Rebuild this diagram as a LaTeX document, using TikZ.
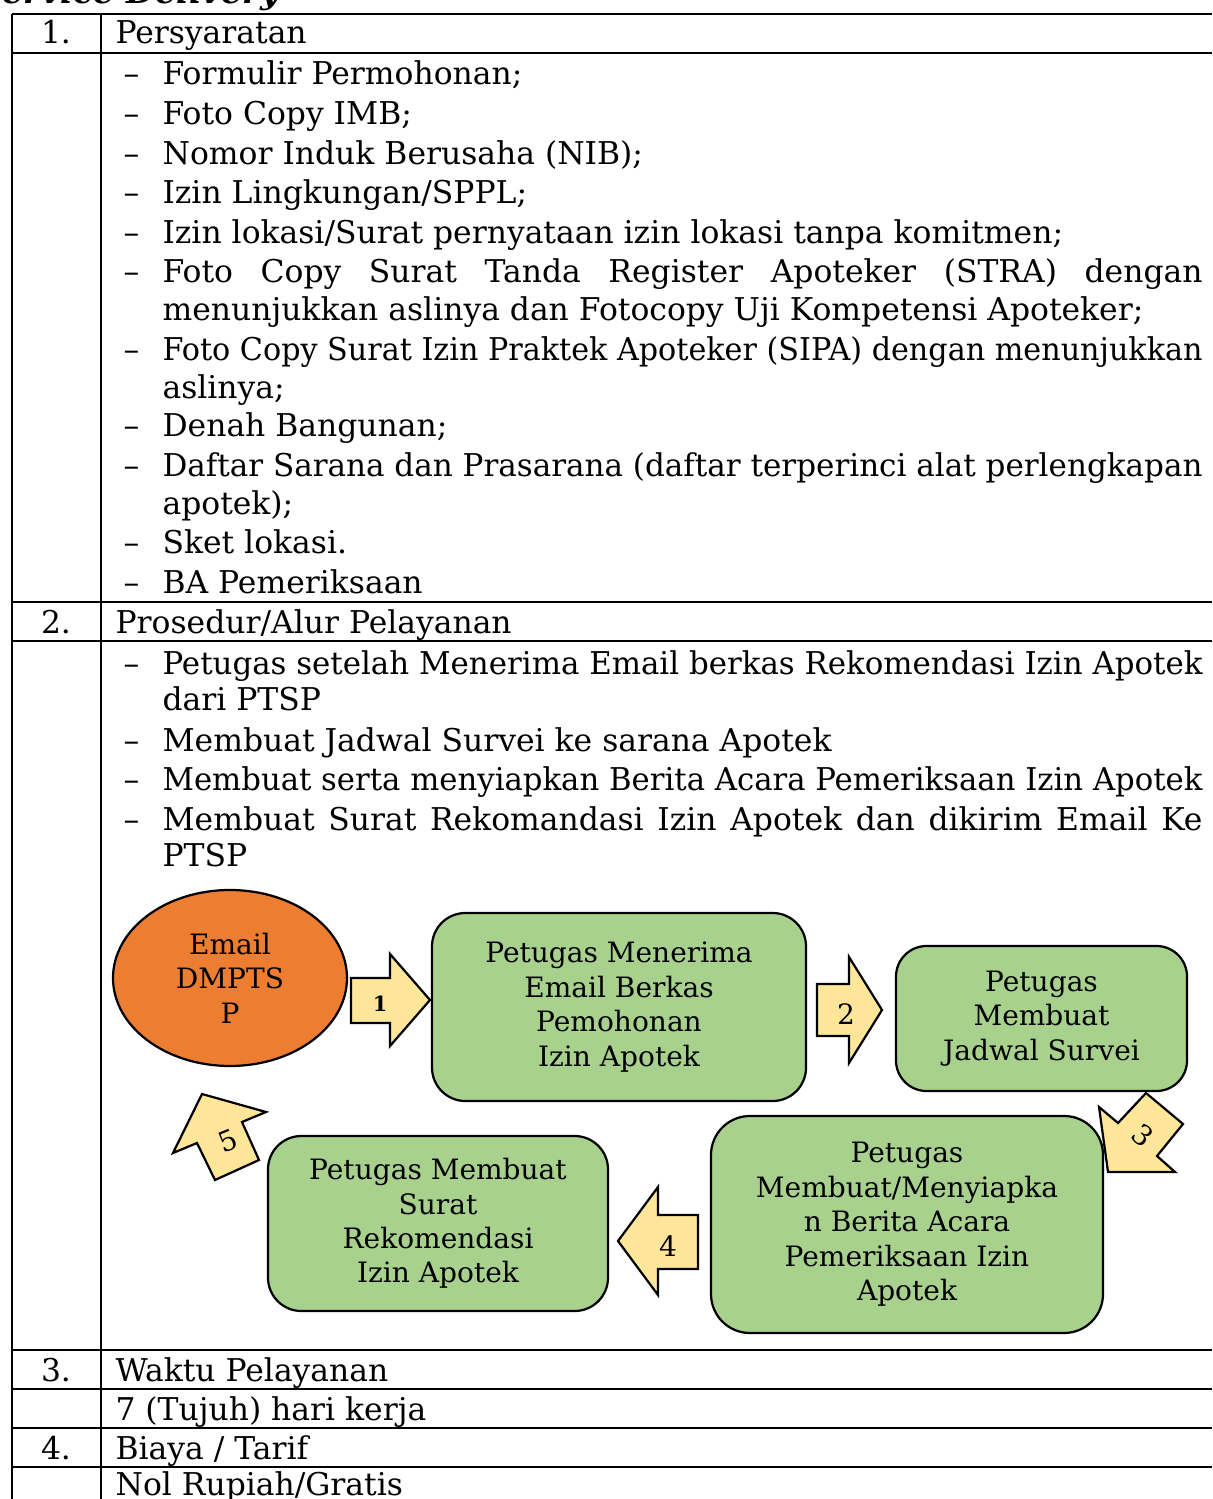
\documentclass[tikz,border=0pt]{standalone}
\usepackage{fontspec}
\usepackage{graphicx}
\setmainfont{DejaVu Serif}
\usetikzlibrary{shapes.geometric}
\definecolor{boxgreen}{HTML}{A9D18E}
\definecolor{arrowyellow}{HTML}{FFE699}
\definecolor{ellorange}{HTML}{ED7D31}
\newcommand\pxu{0.36pt}
\newcommand\bodyfont{\fontsize{11.3}{13}\selectfont}
\newcommand\flowfont{\fontsize{10.1}{12.4}\selectfont}
\newcommand\jbox[1]{\setbox0\hbox{#1}\ifdim\wd0>374.4pt\relax\resizebox{374.4pt}{\height}{#1}\else\makebox[374.4pt][s]{#1}\fi}
\tikzset{
  txt/.style={inner sep=0pt, font=\bodyfont, anchor=base west},
  num/.style={inner sep=0pt, font=\bodyfont, anchor=base},
  rule/.style={line width=0.8pt},
  flowbox/.style={draw, line width=0.8pt, fill=boxgreen, align=center, font=\flowfont, inner sep=0pt},
  blockarrow/.style={draw, line width=0.8pt, fill=arrowyellow, line join=miter},
}
\newcommand\itm[3]{\node[txt] (#1d) at (123,#2) {–}; \node[txt] (#1) at (162,#2) {#3};}
\newcommand\jitm[3]{\node[txt] (#1d) at (123,#2) {–}; \node[txt] (#1) at (162,#2) {\jbox{#3}};}
\newcommand\cont[3]{\node[txt] (#1) at (162,#2) {#3};}
\begin{document}
\begin{tikzpicture}[x=0.36pt,y=-0.36pt]
\useasboundingbox (0,0) rectangle (1212,1499);
\fill[white] (0,0) rectangle (1212,1499);
% title (cut off)
\node[inner sep=0pt, anchor=base west, font=\fontsize{12}{14}\selectfont\bfseries\itshape] (title) at (-22,4) {Service Delivery};
% table rules
\foreach \yy in {14,53,602,641,1350,1389,1428,1467} {\draw[rule] (12,\yy) -- (1212,\yy);}
\draw[rule] (12,14) -- (12,1499);
\draw[rule] (101,14) -- (101,1499);
% section 1
\node[num] (n1) at (56,44) {1.};
\node[txt] (h1) at (115,44) {Persyaratan};
\itm{a1}{85}{Formulir Permohonan;}
\itm{a2}{125}{Foto Copy IMB;}
\itm{a3}{165}{Nomor Induk Berusaha (NIB);}
\itm{a4}{204}{Izin Lingkungan/SPPL;}
\itm{a5}{244}{Izin lokasi/Surat pernyataan izin lokasi tanpa komitmen;}
\jitm{a6}{283}{Foto Copy Surat Tanda Register Apoteker (STRA) dengan}
\cont{a6b}{321}{menunjukkan aslinya dan Fotocopy Uji Kompetensi Apoteker;}
\jitm{a7}{361}{Foto Copy Surat Izin Praktek Apoteker (SIPA) dengan menunjukkan}
\cont{a7b}{399}{aslinya;}
\itm{a8}{437}{Denah Bangunan;}
\jitm{a9}{477}{Daftar Sarana dan Prasarana (daftar terperinci alat perlengkapan}
\cont{a9b}{515}{apotek);}
\itm{a10}{554}{Sket lokasi.}
\itm{a11}{594}{BA Pemeriksaan}
% section 2
\node[num] (n2) at (56,633) {2.};
\node[txt] (h2) at (115,633) {Prosedur/Alur Pelayanan};
\jitm{b1}{674}{Petugas setelah Menerima Email berkas Rekomendasi Izin Apotek}
\cont{b1b}{710}{dari PTSP}
\itm{b2}{751}{Membuat Jadwal Survei ke sarana Apotek}
\jitm{b3}{790}{Membuat serta menyiapkan Berita Acara Pemeriksaan Izin Apotek}
\jitm{b4}{830}{Membuat Surat Rekomandasi Izin Apotek dan dikirim Email Ke}
\cont{b4b}{866}{PTSP}
% flowchart
\node[ellipse, draw, line width=0.8pt, fill=ellorange, inner sep=0pt, align=center, font=\flowfont,
  minimum width=234*\pxu, minimum height=176*\pxu] (email) at (230,978) {Email\\DMPTS\\P};
\node[flowbox, rounded corners=12pt, minimum width=374*\pxu, minimum height=188*\pxu] (s1) at (619,1007)
  {Petugas Menerima\\Email Berkas\\Pemohonan\\Izin Apotek};
\node[flowbox, rounded corners=11pt, minimum width=291*\pxu, minimum height=145*\pxu] (s2) at (1041.5,1018.5)
  {Petugas\\Membuat\\Jadwal Survei};
\node[flowbox, rounded corners=14pt, minimum width=392*\pxu, minimum height=217*\pxu] (s3) at (907,1224.5)
  {Petugas\\Membuat/Menyiapka\\n Berita Acara\\Pemeriksaan Izin\\Apotek};
\node[flowbox, rounded corners=12pt, minimum width=340*\pxu, minimum height=175*\pxu] (s4) at (438,1223.5)
  {Petugas Membuat\\Surat\\Rekomendasi\\Izin Apotek};
% block arrows
\draw[blockarrow] (351,978) -- (390,978) -- (390,954) -- (430,1000) -- (390,1046) -- (390,1023) -- (351,1023) -- cycle;
\node[inner sep=0pt, font=\fontsize{7.5}{9}\selectfont\bfseries] (l1) at (380,1004) {1};
\draw[blockarrow] (817,984) -- (849,984) -- (849,957) -- (882,1010) -- (849,1063) -- (849,1036) -- (817,1036) -- cycle;
\node[inner sep=0pt, font=\flowfont] (l2) at (846,1014) {2};
\draw[blockarrow] (1146,1093) -- (1183,1124) -- (1157,1156) -- (1175,1172) -- (1108,1172) -- (1099,1107) -- (1118,1123) -- cycle;
\node[inner sep=0pt, font=\flowfont, rotate=-40] (l3) at (1143,1135) {3};
\draw[blockarrow] (618,1241) -- (658,1187) -- (658,1215) -- (698,1215) -- (698,1269) -- (658,1269) -- (658,1295) -- cycle;
\node[inner sep=0pt, font=\flowfont] (l4) at (668,1246) {4};
\draw[blockarrow] (202,1094) -- (266,1112) -- (242,1122) -- (259,1160) -- (215,1180) -- (197,1143) -- (173,1153) -- cycle;
\node[inner sep=0pt, font=\flowfont, rotate=22] (l5) at (228,1141) {5};
% section 3 and 4
\node[num] (n3) at (56,1381) {3.};
\node[txt] (h3) at (115,1381) {Waktu Pelayanan};
\node[txt] (c3) at (115,1420) {7 (Tujuh) hari kerja};
\node[num] (n4) at (56,1459) {4.};
\node[txt] (h4) at (115,1459) {Biaya / Tarif};
\node[txt] (c4) at (115,1495) {Nol Rupiah/Gratis};
\end{tikzpicture}
\end{document}
